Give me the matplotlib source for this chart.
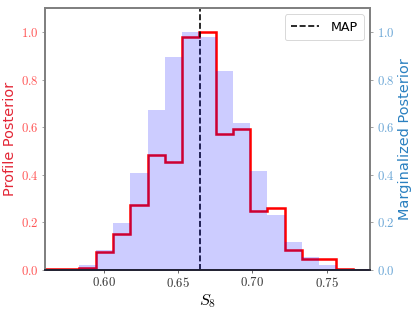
import numpy as np
import matplotlib
matplotlib.use("Agg")
import matplotlib.pyplot as plt
from matplotlib.ticker import FuncFormatter

plt.rcParams['mathtext.fontset'] = 'cm'

# histogram bins in S8
s8_lo, s8_hi, n_bins = 0.5603, 0.7793, 19
edges = np.linspace(s8_lo, s8_hi, n_bins + 1)

# profile posterior (red step line)
profile = [0.002, 0.005, 0.008, 0.075, 0.151, 0.273, 0.483, 0.452, 0.980, 1.000,
           0.570, 0.592, 0.246, 0.259, 0.084, 0.046, 0.046, 0.004, 0.001]
# marginalized posterior (blue filled histogram)
marginal = [0.000, 0.003, 0.021, 0.085, 0.199, 0.406, 0.672, 0.896, 1.000, 0.978,
            0.836, 0.616, 0.417, 0.231, 0.116, 0.053, 0.021, 0.003, 0.000]
s8_map = 0.665

fig = plt.figure(figsize=(6.385, 4.8), dpi=65)
ax1 = fig.add_axes([0.108, 0.135, 0.784, 0.839])
ax2 = ax1.twinx()

ax1.stairs(profile, edges, color='red', linewidth=2.8)
map_line = ax1.axvline(s8_map, color='black', linestyle='--', linewidth=1.8, label='MAP')
ax2.stairs(marginal, edges, fill=True, color='blue', alpha=0.2)

ax1.set_xlim(edges[0], edges[-1])
ax1.set_ylim(0, 1.1)
ax2.set_ylim(0, 1.1)

ax1.set_xticks([0.60, 0.65, 0.70, 0.75])
ax1.set_yticks(np.arange(0, 1.01, 0.2))
ax2.set_yticks(np.arange(0, 1.01, 0.2))
ax1.xaxis.set_major_formatter(FuncFormatter(lambda v, p: f'${v:.2f}$'))
ax1.yaxis.set_major_formatter(FuncFormatter(lambda v, p: f'${v:.1f}$'))
ax2.yaxis.set_major_formatter(FuncFormatter(lambda v, p: f'${v:.1f}$'))

ax1.tick_params(axis='x', labelsize=14, colors='#333333')
ax1.tick_params(axis='y', labelsize=14, labelcolor='#ff5555', color='gray')
ax2.tick_params(axis='y', labelsize=14, labelcolor='#6aa6d6', color='gray')

ax1.set_xlabel('$S_8$', fontsize=18, labelpad=2)
ax1.set_ylabel('Profile Posterior', color='#e32636', fontsize=16)
ax2.set_ylabel('Marginalized Posterior', color='#2a80c0', fontsize=16)

for ax in (ax1, ax2):
    for side, sp in ax.spines.items():
        sp.set_color('gray')
        sp.set_linewidth(2)
ax1.spines['bottom'].set_color('#222233')
ax2.spines['bottom'].set_color('#222233')

ax2.legend(handles=[map_line], loc='upper right', fontsize=14,
           handlelength=2.2, handletextpad=0.9, borderpad=0.5)

fig.savefig('out.png', dpi=65)
